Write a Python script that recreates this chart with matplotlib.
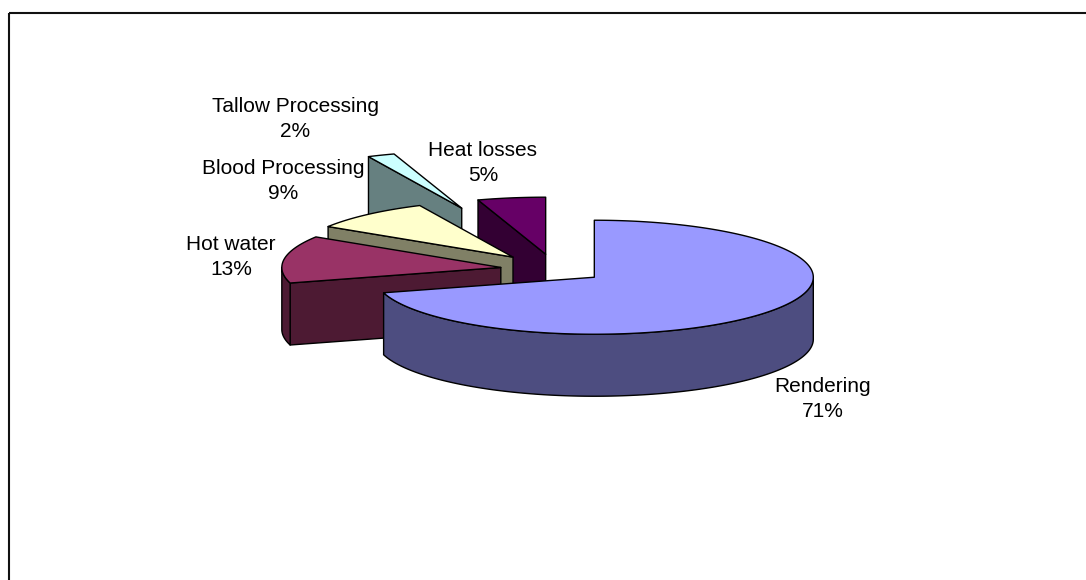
import numpy as np
import matplotlib
matplotlib.use("Agg")
import matplotlib.pyplot as plt
from matplotlib.patches import Polygon, Rectangle

# data
categories = ["Rendering", "Hot water", "Blood Processing", "Tallow Processing", "Heat losses"]
percentages = [70.6, 13.4, 9.0, 2.0, 5.0]

# styling
explode = [0.225, 0.25, 0.29, 1.157, 0.272]
top_colors = ["#9999FF", "#993366", "#FFFFCC", "#CCFFFF", "#660066"]
side_colors = ["#4D4D80", "#4D1A33", "#808066", "#668080", "#330033"]
label_centres = [(823, 399), (231, 257), (283, 181), (295, 119), (483, 163)]
draw_order = [3, 4, 2, 1, 0]

CX, CY = 555.0, 269.5
RX, RY, DEPTH = 219.0, 57.0, 62.0
W, H = 1086, 580

plt.rcParams["font.family"] = ["Liberation Sans", "DejaVu Sans"]
fig = plt.figure(figsize=(W / 100, H / 100), dpi=100, facecolor="white")
ax = fig.add_axes([0, 0, 1, 1])
ax.set_xlim(0, W)
ax.set_ylim(H, 0)
ax.axis("off")

ax.add_patch(Rectangle((9.0, 13.0), W + 50, H + 50, fill=False, edgecolor="#111111", linewidth=1.5, zorder=0))


def rim(ox, oy, a, b, dy=0.0):
    t = np.radians(np.linspace(a, b, max(int(abs(b - a)) + 2, 2)))
    return np.column_stack([ox + RX * np.sin(t), oy - RY * np.cos(t) + dy])


total = sum(percentages)
edges = np.concatenate([[0], np.cumsum(percentages) / total * 360.0])
z = 2
for i in draw_order:
    a, b = edges[i], edges[i + 1]
    mid = np.radians((a + b) / 2)
    ox = CX + explode[i] * RX * np.sin(mid)
    oy = CY - explode[i] * RY * np.cos(mid)
    kw = dict(edgecolor="black", linewidth=1.0, joinstyle="round", zorder=z)
    apex = np.array([[ox, oy]])
    apex_low = np.array([[ox, oy + DEPTH]])
    # radial cut faces that look towards the viewer
    for ang, visible in ((a, np.sin(np.radians(a)) < -1e-6), (b, np.sin(np.radians(b)) > 1e-6)):
        if visible:
            p = rim(ox, oy, ang, ang)[:1]
            face = np.vstack([apex, p, p + [0, DEPTH], apex_low])
            ax.add_patch(Polygon(face, closed=True, facecolor=side_colors[i], **kw))
    # outer wall, front half only
    lo, hi = max(a, 90.0), min(b, 270.0)
    if lo < hi:
        wall = np.vstack([rim(ox, oy, lo, hi), rim(ox, oy, hi, lo, DEPTH)])
        ax.add_patch(Polygon(wall, closed=True, facecolor=side_colors[i], **kw))
    # top surface
    ax.add_patch(Polygon(np.vstack([apex, rim(ox, oy, a, b)]), closed=True, facecolor=top_colors[i], **kw))
    z += 1

for name, pct, (x, y) in zip(categories, percentages, label_centres):
    ax.text(x, y, f"{name}\n{round(pct)}%", ha="center", va="center", fontsize=15.0,
            linespacing=1.45, color="black", zorder=20)

fig.savefig("out.png", dpi=100, facecolor="white")
